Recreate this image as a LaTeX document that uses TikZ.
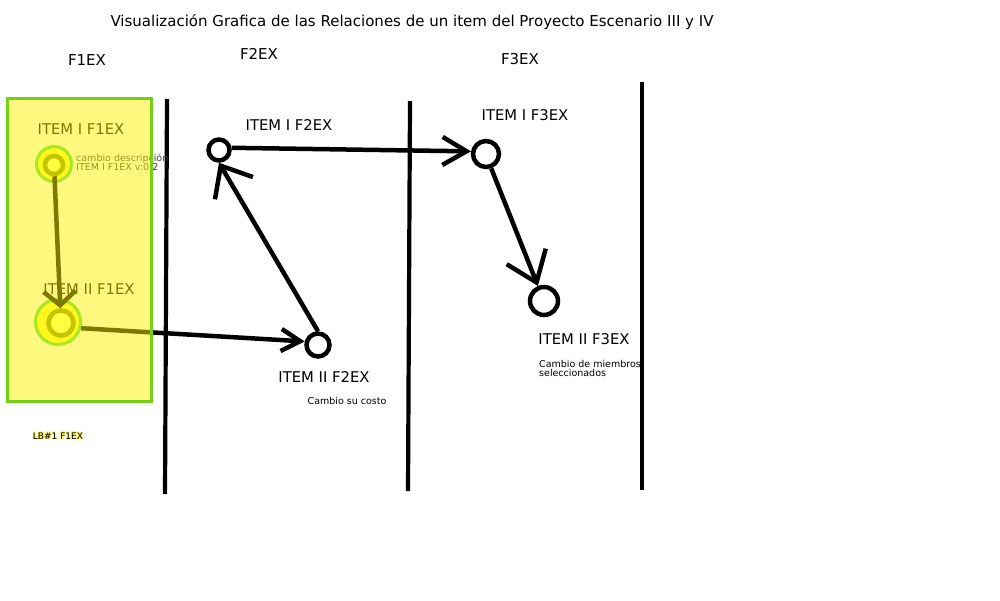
\documentclass[tikz,border=0pt]{standalone}
\usepackage{fontspec}
\setmainfont{DejaVu Sans}
\usetikzlibrary{arrows.meta}
\definecolor{boxedge}{HTML}{73D216}
\definecolor{haloedge}{HTML}{55DD44}
\definecolor{halofill}{HTML}{FFFF40}
\definecolor{ringcol}{HTML}{C4C400}
\definecolor{ringfill}{HTML}{FFFF40}
\definecolor{desccol}{HTML}{404040}
\begin{document}
\begin{tikzpicture}[x=1pt,y=-1pt,
  item/.style={circle,draw=black,fill=white,line width=4.5pt,inner sep=0pt},
  halo/.style={circle,draw=haloedge,fill=halofill,line width=3pt,inner sep=0pt},
  ring/.style={circle,draw=ringcol,fill=ringfill,line width=4.5pt,inner sep=0pt},
  edge/.style={draw=black,line width=4.5pt,line join=round},
  lbl/.style={font=\fontsize{14.8}{17}\selectfont,inner sep=0pt},
  head/.style={font=\fontsize{15}{17}\selectfont,inner sep=0pt},
  small/.style={font=\fontsize{9.5}{9.5}\selectfont,inner sep=0pt,align=left},
  sep/.style={line width=4.2pt}]
\useasboundingbox (0,0) rectangle (1000,600);
% title and headings
\node[font=\fontsize{15}{17}\selectfont,inner sep=0pt] (title) at (412,22) {Visualización Grafica de las Relaciones de un item del Proyecto Escenario III y IV};
\node[head] (h1) at (87,60) {F1EX};
\node[head] (h2) at (259,54) {F2EX};
\node[head] (h3) at (520,59) {F3EX};
% separators
\draw[sep] (167,99) -- (165,494);
\draw[sep] (410,101) -- (408,491);
\draw[sep] (642,82) -- (642,490);
% halos of F1EX items
\node[halo,minimum size=35pt] (f1ah) at (54,164) {};
\node[halo,minimum size=45pt] (f1bh) at (58,322) {};
% item nodes
\node[ring,minimum size=18pt] (f1a) at (54,165) {};
\node[ring,minimum size=25pt] (f1b) at (61,323) {};
\node[item,minimum size=21pt] (f2a) at (219,150) {};
\node[item,minimum size=23pt] (f2b) at (318,345) {};
\node[item,minimum size=26pt] (f3a) at (486,154) {};
\node[item,minimum size=28pt] (f3b) at (544,301) {};
% labels
\node[lbl] (l1a) at (81,129) {ITEM I F1EX};
\node[lbl] (l1b) at (89,289) {ITEM II F1EX};
\node[lbl] (l2a) at (289,125) {ITEM I F2EX};
\node[lbl] (l2b) at (324,377) {ITEM II F2EX};
\node[lbl] (l3a) at (525,115) {ITEM I F3EX};
\node[lbl] (l3b) at (584,339) {ITEM II F3EX};
\node[small,text=desccol,anchor=west] (d1a) at (76,162.5) {cambio descripción\\ITEM I F1EX v:0.2};
\node[small] (d2b) at (347,401) {Cambio su costo};
\node[small,anchor=west] (d3b) at (539,368.5) {Cambio de miembros\\seleccionados};
% connectors
\draw[edge,-{Straight Barb[length=14pt,width=32pt]}] (f1a) -- (f1b);
\draw[edge,-{Straight Barb[length=19pt,width=22pt]}] (f1bh.345) -- (f2b.165);
\draw[edge,-{Straight Barb[length=26pt,width=44pt]}] (f2b.north) -- (f2a.south);
\draw[edge,-{Straight Barb[length=24pt,width=28pt]}] (f2a.10) -- (f3a.170);
\draw[edge,-{Straight Barb[length=28pt,width=42pt]}] (f3a.290) -- (f3b.112);
% translucent group box of F1EX
\fill[yellow,fill opacity=0.5] (7,98) rectangle (151,401);
\draw[boxedge,line width=3pt] (7,98) rectangle (151,401);
% redraw rings on top
\node[ring,minimum size=18pt] at (f1a) {};
\node[ring,minimum size=25pt] at (f1b) {};
% baseline label with glow
\foreach \dx/\dy in {-0.7/0,0.7/0,0/-0.7,0/0.7}
  \node[font=\fontsize{9}{9}\selectfont,inner sep=0pt,text=yellow] at (58+\dx,436+\dy) {LB\#1 F1EX};
\node[font=\fontsize{9}{9}\selectfont,inner sep=0pt] (lb) at (58,436) {LB\#1 F1EX};
\end{tikzpicture}
\end{document}
